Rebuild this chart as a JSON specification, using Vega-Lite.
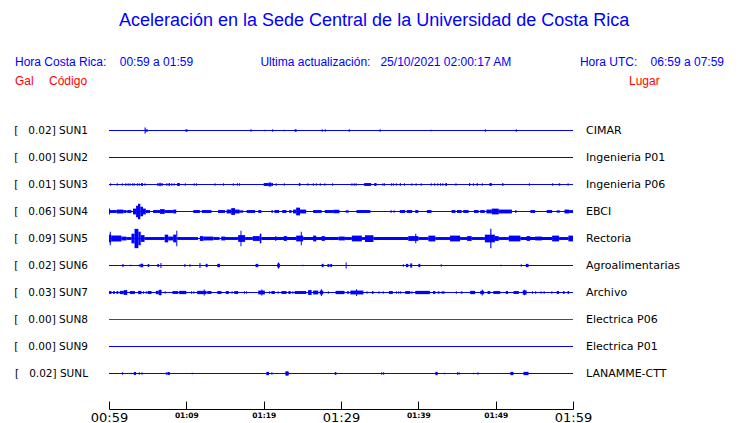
{
"$schema": "https://vega.github.io/schema/vega-lite/v6.json",
"background": "white",
"autosize": {"type": "pad"},
"padding": {"left": 14, "top": 12, "right": 5, "bottom": 5},
"title": {"text": "Aceleración en la Sede Central de la Universidad de Costa Rica", "font": "Liberation Sans", "fontSize": 18, "fontWeight": "normal", "color": "#0000ff", "anchor": "middle", "offset": 22, "dx": 5},
"config": {"view": {"stroke": null}},
"spacing": 27,
"vconcat": [
{
 "width": 464, "height": 38,
 "layer": [
  {"data": {"values": [{"t": "Hora Costa Rica:\u00a0\u00a0\u00a0\u00a000:59 a 01:59"}]},
   "mark": {"type": "text", "align": "left", "baseline": "middle", "font": "Liberation Sans", "fontSize": 12, "color": "#0000ff"},
   "encoding": {"text": {"field": "t"}, "x": {"datum": 0, "type": "quantitative", "scale": {"domain": [0, 1], "range": [-94, 615]}, "axis": null}, "y": {"datum": "l1", "type": "nominal", "scale": {"type": "point", "domain": ["l1", "l2"], "padding": 0.5}, "axis": null}}},
  {"data": {"values": [{"t": "Ultima actualización:\u00a0\u00a0\u00a025/10/2021 02:00:17 AM"}]},
   "mark": {"type": "text", "align": "center", "baseline": "middle", "font": "Liberation Sans", "fontSize": 12, "color": "#0000ff"},
   "encoding": {"text": {"field": "t"}, "x": {"datum": 0.523, "type": "quantitative"}, "y": {"datum": "l1", "type": "nominal"}}},
  {"data": {"values": [{"t": "Hora UTC:\u00a0\u00a0\u00a0\u00a006:59 a 07:59"}]},
   "mark": {"type": "text", "align": "right", "baseline": "middle", "font": "Liberation Sans", "fontSize": 12, "color": "#0000ff"},
   "encoding": {"text": {"field": "t"}, "x": {"datum": 1, "type": "quantitative"}, "y": {"datum": "l1", "type": "nominal"}}},
  {"data": {"values": [{"t": "Gal"}]},
   "mark": {"type": "text", "align": "left", "baseline": "middle", "font": "Liberation Sans", "fontSize": 12, "color": "#ff0000"},
   "encoding": {"text": {"field": "t"}, "x": {"datum": 0, "type": "quantitative"}, "y": {"datum": "l2", "type": "nominal"}}},
  {"data": {"values": [{"t": "Código"}]},
   "mark": {"type": "text", "align": "left", "baseline": "middle", "font": "Liberation Sans", "fontSize": 12, "color": "#ff0000"},
   "encoding": {"text": {"field": "t"}, "x": {"datum": 0.048, "type": "quantitative"}, "y": {"datum": "l2", "type": "nominal"}}},
  {"data": {"values": [{"t": "Lugar"}]},
   "mark": {"type": "text", "align": "left", "baseline": "middle", "font": "Liberation Sans", "fontSize": 12, "color": "#ff0000"},
   "encoding": {"text": {"field": "t"}, "x": {"datum": 0.866, "type": "quantitative"}, "y": {"datum": "l2", "type": "nominal"}}}
 ]
},
{
 "data": {"values": [
  {"c":"SUN1","k":"base","t0":0,"t1":60,"lo":-0.5,"hi":0.5},{"c":"SUN2","k":"base","t0":0,"t1":60,"lo":-0.5,"hi":0.5},{"c":"SUN3","k":"base","t0":0,"t1":60,"lo":-0.5,"hi":0.5},{"c":"SUN4","k":"base","t0":0,"t1":60,"lo":-0.5,"hi":0.5},{"c":"SUN5","k":"base","t0":0,"t1":60,"lo":-0.5,"hi":0.5},
  {"c":"SUN6","k":"base","t0":0,"t1":60,"lo":-0.5,"hi":0.5},{"c":"SUN7","k":"base","t0":0,"t1":60,"lo":-0.5,"hi":0.5},{"c":"SUN8","k":"base","t0":0,"t1":60,"lo":-0.5,"hi":0.5},{"c":"SUN9","k":"base","t0":0,"t1":60,"lo":-0.5,"hi":0.5},{"c":"SUNL","k":"base","t0":0,"t1":60,"lo":-0.5,"hi":0.5},

  {"c":"SUN1","t0":4.6,"t1":4.75,"lo":-3.2,"hi":3.2},{"c":"SUN1","t0":4.8,"t1":5.0,"lo":-1.3,"hi":1.3},{"c":"SUN1","t0":9.9,"t1":10.15,"lo":-1.3,"hi":1.3},{"c":"SUN1","t0":18.3,"t1":18.43,"lo":-1.3,"hi":1.3},{"c":"SUN1","t0":20.1,"t1":20.23,"lo":-0.8,"hi":0.8},{"c":"SUN1","t0":21.1,"t1":21.23,"lo":-1.3,"hi":1.3},{"c":"SUN1","t0":22.6,"t1":22.73,"lo":-0.8,"hi":0.8},{"c":"SUN1","t0":24.0,"t1":24.26,"lo":-1.3,"hi":1.3},{"c":"SUN1","t0":27.5,"t1":27.63,"lo":-1.3,"hi":1.3},{"c":"SUN1","t0":27.9,"t1":28.03,"lo":-1.3,"hi":1.3},{"c":"SUN1","t0":31.0,"t1":31.13,"lo":-1.3,"hi":1.3},{"c":"SUN1","t0":35.0,"t1":35.13,"lo":-1.3,"hi":1.3},{"c":"SUN1","t0":41.6,"t1":41.73,"lo":-0.8,"hi":0.8},{"c":"SUN1","t0":48.6,"t1":48.73,"lo":-1.3,"hi":1.3},{"c":"SUN1","t0":52.6,"t1":52.73,"lo":-1.3,"hi":1.3},

  {"c":"SUN3","t0":0.15,"t1":0.28,"lo":-1.2,"hi":1.2},{"c":"SUN3","t0":1.0,"t1":1.13,"lo":-1.2,"hi":1.2},{"c":"SUN3","t0":1.65,"t1":1.78,"lo":-1.2,"hi":1.2},{"c":"SUN3","t0":2.1,"t1":2.23,"lo":-1.2,"hi":1.2},{"c":"SUN3","t0":2.4,"t1":2.53,"lo":-1.2,"hi":1.2},{"c":"SUN3","t0":2.65,"t1":2.78,"lo":-1.2,"hi":1.2},{"c":"SUN3","t0":3.0,"t1":3.13,"lo":-1.2,"hi":1.2},{"c":"SUN3","t0":3.2,"t1":3.33,"lo":-1.2,"hi":1.2},{"c":"SUN3","t0":3.6,"t1":3.73,"lo":-1.2,"hi":1.2},{"c":"SUN3","t0":3.85,"t1":3.98,"lo":-1.2,"hi":1.2},{"c":"SUN3","t0":4.15,"t1":4.4,"lo":-1.5,"hi":1.5},{"c":"SUN3","t0":4.6,"t1":4.73,"lo":-1.2,"hi":1.2},{"c":"SUN3","t0":6.2,"t1":6.45,"lo":-1.2,"hi":1.2},{"c":"SUN3","t0":6.5,"t1":6.7,"lo":-1.7,"hi":1.7},{"c":"SUN3","t0":6.75,"t1":7.0,"lo":-1.2,"hi":1.2},{"c":"SUN3","t0":7.4,"t1":7.55,"lo":-1.2,"hi":1.2},{"c":"SUN3","t0":7.7,"t1":7.87,"lo":-1.5,"hi":1.5},{"c":"SUN3","t0":8.05,"t1":8.18,"lo":-1.2,"hi":1.2},{"c":"SUN3","t0":8.35,"t1":8.48,"lo":-1.2,"hi":1.2},{"c":"SUN3","t0":8.8,"t1":9.16,"lo":-1.5,"hi":1.5},{"c":"SUN3","t0":9.8,"t1":9.93,"lo":-1.2,"hi":1.2},{"c":"SUN3","t0":10.95,"t1":11.08,"lo":-1.2,"hi":1.2},{"c":"SUN3","t0":11.25,"t1":11.38,"lo":-1.2,"hi":1.2},{"c":"SUN3","t0":13.65,"t1":13.78,"lo":-1.2,"hi":1.2},{"c":"SUN3","t0":14.75,"t1":14.88,"lo":-1.2,"hi":1.2},{"c":"SUN3","t0":16.0,"t1":16.13,"lo":-1.2,"hi":1.2},{"c":"SUN3","t0":16.55,"t1":16.68,"lo":-1.2,"hi":1.2},{"c":"SUN3","t0":16.8,"t1":16.93,"lo":-1.2,"hi":1.2},{"c":"SUN3","t0":20.0,"t1":20.6,"lo":-1.5,"hi":1.5},{"c":"SUN3","t0":20.6,"t1":21.0,"lo":-2,"hi":2},{"c":"SUN3","t0":21.0,"t1":21.2,"lo":-1.5,"hi":1.5},{"c":"SUN3","t0":21.55,"t1":21.68,"lo":-1.2,"hi":1.2},{"c":"SUN3","t0":22.6,"t1":22.73,"lo":-1.2,"hi":1.2},{"c":"SUN3","t0":24.55,"t1":24.75,"lo":-1.5,"hi":1.5},{"c":"SUN3","t0":25.65,"t1":25.78,"lo":-1.2,"hi":1.2},{"c":"SUN3","t0":26.35,"t1":26.48,"lo":-1.2,"hi":1.2},{"c":"SUN3","t0":26.75,"t1":26.88,"lo":-1.2,"hi":1.2},{"c":"SUN3","t0":27.25,"t1":27.38,"lo":-1.2,"hi":1.2},{"c":"SUN3","t0":27.85,"t1":27.98,"lo":-1.2,"hi":1.2},{"c":"SUN3","t0":28.85,"t1":28.98,"lo":-1.2,"hi":1.2},
  {"c":"SUN3","t0":31.35,"t1":31.48,"lo":-1.2,"hi":1.2},{"c":"SUN3","t0":31.65,"t1":31.78,"lo":-1.2,"hi":1.2},{"c":"SUN3","t0":31.9,"t1":32.03,"lo":-1.2,"hi":1.2},{"c":"SUN3","t0":33.0,"t1":33.9,"lo":-1.5,"hi":1.5},{"c":"SUN3","t0":34.3,"t1":34.6,"lo":-1.5,"hi":1.5},{"c":"SUN3","t0":35.35,"t1":35.48,"lo":-1.2,"hi":1.2},{"c":"SUN3","t0":35.55,"t1":35.68,"lo":-1.2,"hi":1.2},{"c":"SUN3","t0":36.45,"t1":36.58,"lo":-1.2,"hi":1.2},{"c":"SUN3","t0":36.7,"t1":36.83,"lo":-1.2,"hi":1.2},{"c":"SUN3","t0":37.1,"t1":37.23,"lo":-1.2,"hi":1.2},{"c":"SUN3","t0":37.6,"t1":37.73,"lo":-1.5,"hi":1.5},{"c":"SUN3","t0":38.15,"t1":38.28,"lo":-1.2,"hi":1.2},{"c":"SUN3","t0":39.1,"t1":39.23,"lo":-1.2,"hi":1.2},{"c":"SUN3","t0":39.65,"t1":39.78,"lo":-1.2,"hi":1.2},{"c":"SUN3","t0":40.3,"t1":40.43,"lo":-1.2,"hi":1.2},{"c":"SUN3","t0":41.6,"t1":41.73,"lo":-1.2,"hi":1.2},{"c":"SUN3","t0":42.05,"t1":42.18,"lo":-1.2,"hi":1.2},{"c":"SUN3","t0":42.45,"t1":42.58,"lo":-1.2,"hi":1.2},{"c":"SUN3","t0":42.8,"t1":42.93,"lo":-1.2,"hi":1.2},{"c":"SUN3","t0":43.1,"t1":43.23,"lo":-1.2,"hi":1.2},{"c":"SUN3","t0":43.5,"t1":43.7,"lo":-1.5,"hi":1.5},{"c":"SUN3","t0":44.8,"t1":44.93,"lo":-1.2,"hi":1.2},{"c":"SUN3","t0":46.55,"t1":46.7,"lo":-1.5,"hi":1.5},{"c":"SUN3","t0":47.05,"t1":47.18,"lo":-1.2,"hi":1.2},{"c":"SUN3","t0":47.55,"t1":47.68,"lo":-1.5,"hi":1.5},{"c":"SUN3","t0":48.2,"t1":48.33,"lo":-1.2,"hi":1.2},{"c":"SUN3","t0":49.2,"t1":49.5,"lo":-1.5,"hi":1.5},{"c":"SUN3","t0":50.85,"t1":51.0,"lo":-1.5,"hi":1.5},{"c":"SUN3","t0":54.3,"t1":54.43,"lo":-1.2,"hi":1.2},{"c":"SUN3","t0":57.3,"t1":57.43,"lo":-1.2,"hi":1.2},{"c":"SUN3","t0":58.15,"t1":58.35,"lo":-1.2,"hi":1.2},{"c":"SUN3","t0":59.3,"t1":59.43,"lo":-1.2,"hi":1.2},

  {"c":"SUN4","t0":0,"t1":0.13,"lo":-3,"hi":3},{"c":"SUN4","t0":0.13,"t1":1.0,"lo":-1.5,"hi":1.5},{"c":"SUN4","t0":1.0,"t1":1.85,"lo":-2,"hi":2},{"c":"SUN4","t0":1.85,"t1":2.26,"lo":-1.5,"hi":1.5},{"c":"SUN4","t0":2.35,"t1":2.9,"lo":-1.5,"hi":1.5},{"c":"SUN4","t0":3.1,"t1":3.5,"lo":-3,"hi":3},{"c":"SUN4","t0":3.5,"t1":3.75,"lo":-6,"hi":6},{"c":"SUN4","t0":3.75,"t1":4.05,"lo":-8,"hi":8},{"c":"SUN4","t0":4.05,"t1":4.4,"lo":-5,"hi":5},{"c":"SUN4","t0":4.4,"t1":4.76,"lo":-3,"hi":3},{"c":"SUN4","t0":4.76,"t1":5.3,"lo":-1.5,"hi":1.5},{"c":"SUN4","t0":5.7,"t1":6.6,"lo":-1.5,"hi":1.5},{"c":"SUN4","t0":6.6,"t1":7.2,"lo":-2.5,"hi":2.5},{"c":"SUN4","t0":7.2,"t1":8.3,"lo":-1.5,"hi":1.5},{"c":"SUN4","t0":8.3,"t1":8.7,"lo":-2,"hi":2},{"c":"SUN4","t0":10.9,"t1":11.75,"lo":-1.5,"hi":1.5},{"c":"SUN4","t0":12.0,"t1":13.25,"lo":-1.5,"hi":1.5},{"c":"SUN4","t0":14.1,"t1":15.0,"lo":-1.5,"hi":1.5},{"c":"SUN4","t0":15.2,"t1":15.8,"lo":-2,"hi":2},{"c":"SUN4","t0":15.8,"t1":16.3,"lo":-3.5,"hi":3.5},{"c":"SUN4","t0":16.3,"t1":16.9,"lo":-2,"hi":2},{"c":"SUN4","t0":16.9,"t1":17.35,"lo":-1.2,"hi":1.2},{"c":"SUN4","t0":17.8,"t1":18.9,"lo":-1.5,"hi":1.5},{"c":"SUN4","t0":19.3,"t1":19.7,"lo":-1.5,"hi":1.5},{"c":"SUN4","t0":21.0,"t1":21.2,"lo":-1.2,"hi":1.2},{"c":"SUN4","t0":21.4,"t1":22.0,"lo":-1.5,"hi":1.5},{"c":"SUN4","t0":22.4,"t1":22.95,"lo":-1.5,"hi":1.5},{"c":"SUN4","t0":23.3,"t1":23.6,"lo":-1.5,"hi":1.5},{"c":"SUN4","t0":23.8,"t1":24.2,"lo":-2,"hi":2},{"c":"SUN4","t0":24.2,"t1":24.7,"lo":-4,"hi":4},{"c":"SUN4","t0":24.7,"t1":25.5,"lo":-2,"hi":2},{"c":"SUN4","t0":26.4,"t1":27.5,"lo":-1.5,"hi":1.5},{"c":"SUN4","t0":27.9,"t1":29.0,"lo":-1.5,"hi":1.5},{"c":"SUN4","t0":29.0,"t1":29.8,"lo":-1.8,"hi":1.8},
  {"c":"SUN4","t0":30.6,"t1":31.0,"lo":-1.2,"hi":1.2},{"c":"SUN4","t0":32.0,"t1":33.8,"lo":-1.5,"hi":1.5},{"c":"SUN4","t0":36.4,"t1":36.55,"lo":-1.2,"hi":1.2},{"c":"SUN4","t0":36.8,"t1":36.93,"lo":-1.2,"hi":1.2},{"c":"SUN4","t0":37.6,"t1":38.3,"lo":-1.5,"hi":1.5},{"c":"SUN4","t0":38.5,"t1":39.2,"lo":-1.5,"hi":1.5},{"c":"SUN4","t0":39.6,"t1":40.0,"lo":-1.5,"hi":1.5},{"c":"SUN4","t0":41.1,"t1":41.7,"lo":-1.5,"hi":1.5},{"c":"SUN4","t0":44.3,"t1":44.8,"lo":-1.5,"hi":1.5},{"c":"SUN4","t0":45.0,"t1":45.6,"lo":-1.5,"hi":1.5},{"c":"SUN4","t0":45.8,"t1":46.5,"lo":-1.5,"hi":1.5},{"c":"SUN4","t0":47.2,"t1":47.8,"lo":-1.5,"hi":1.5},{"c":"SUN4","t0":48.0,"t1":48.6,"lo":-1.5,"hi":1.5},{"c":"SUN4","t0":48.8,"t1":49.5,"lo":-2,"hi":2},{"c":"SUN4","t0":49.5,"t1":50.4,"lo":-3,"hi":3},{"c":"SUN4","t0":50.4,"t1":52.1,"lo":-2,"hi":2},{"c":"SUN4","t0":52.5,"t1":52.7,"lo":-1.2,"hi":1.2},{"c":"SUN4","t0":54.5,"t1":55.1,"lo":-1.5,"hi":1.5},{"c":"SUN4","t0":56.6,"t1":57.3,"lo":-1.5,"hi":1.5},{"c":"SUN4","t0":57.9,"t1":58.3,"lo":-1.2,"hi":1.2},{"c":"SUN4","t0":58.9,"t1":59.5,"lo":-2,"hi":2},{"c":"SUN4","t0":59.5,"t1":60,"lo":-1.5,"hi":1.5},

  {"c":"SUN5","t0":0,"t1":0.28,"lo":-4,"hi":4},{"c":"SUN5","t0":0.1,"t1":0.23,"lo":-7,"hi":7},{"c":"SUN5","t0":0.28,"t1":1.6,"lo":-3,"hi":3},{"c":"SUN5","t0":1.6,"t1":2.26,"lo":-2,"hi":2},{"c":"SUN5","t0":2.26,"t1":2.9,"lo":-1.5,"hi":1.5},{"c":"SUN5","t0":2.9,"t1":3.3,"lo":-5,"hi":5},{"c":"SUN5","t0":3.3,"t1":3.8,"lo":-10,"hi":10},{"c":"SUN5","t0":3.8,"t1":4.1,"lo":-7,"hi":7},{"c":"SUN5","t0":4.1,"t1":4.6,"lo":-3.5,"hi":3.5},{"c":"SUN5","t0":4.6,"t1":7.2,"lo":-1.5,"hi":1.5},{"c":"SUN5","t0":7.2,"t1":7.65,"lo":-4,"hi":4},{"c":"SUN5","t0":7.65,"t1":8.3,"lo":-2,"hi":2},{"c":"SUN5","t0":8.3,"t1":8.7,"lo":-4,"hi":4},{"c":"SUN5","t0":8.7,"t1":8.83,"lo":-8,"hi":8},{"c":"SUN5","t0":8.83,"t1":11.5,"lo":-1.5,"hi":1.5},{"c":"SUN5","t0":11.75,"t1":12.2,"lo":-2.5,"hi":2.5},{"c":"SUN5","t0":12.2,"t1":13.5,"lo":-2,"hi":2},{"c":"SUN5","t0":13.5,"t1":14.3,"lo":-1.5,"hi":1.5},{"c":"SUN5","t0":14.5,"t1":15.0,"lo":-2,"hi":2},{"c":"SUN5","t0":15.0,"t1":16.7,"lo":-1.5,"hi":1.5},{"c":"SUN5","t0":16.7,"t1":17.6,"lo":-3.5,"hi":3.5},{"c":"SUN5","t0":17.0,"t1":17.13,"lo":-8,"hi":8},{"c":"SUN5","t0":17.6,"t1":18.6,"lo":-1.5,"hi":1.5},{"c":"SUN5","t0":18.6,"t1":19.5,"lo":-2.5,"hi":2.5},{"c":"SUN5","t0":19.5,"t1":19.7,"lo":-5,"hi":5},{"c":"SUN5","t0":19.7,"t1":24.2,"lo":-1.5,"hi":1.5},{"c":"SUN5","t0":21.5,"t1":21.63,"lo":-2.5,"hi":2.5},{"c":"SUN5","t0":22.6,"t1":23.0,"lo":-2.5,"hi":2.5},{"c":"SUN5","t0":24.2,"t1":25.1,"lo":-3,"hi":3},{"c":"SUN5","t0":24.8,"t1":24.93,"lo":-7,"hi":7},{"c":"SUN5","t0":25.1,"t1":29.7,"lo":-1.5,"hi":1.5},{"c":"SUN5","t0":26.4,"t1":26.8,"lo":-3,"hi":3},{"c":"SUN5","t0":27.5,"t1":27.9,"lo":-2.5,"hi":2.5},
  {"c":"SUN5","t0":29.7,"t1":30.5,"lo":-2,"hi":2},{"c":"SUN5","t0":30.5,"t1":31.4,"lo":-1.5,"hi":1.5},{"c":"SUN5","t0":31.4,"t1":32.7,"lo":-3,"hi":3},{"c":"SUN5","t0":32.7,"t1":33.1,"lo":-1.5,"hi":1.5},{"c":"SUN5","t0":33.1,"t1":34.2,"lo":-3.5,"hi":3.5},{"c":"SUN5","t0":34.2,"t1":38.7,"lo":-1.5,"hi":1.5},{"c":"SUN5","t0":38.7,"t1":40.0,"lo":-2.5,"hi":2.5},{"c":"SUN5","t0":39.6,"t1":39.73,"lo":-5,"hi":5},{"c":"SUN5","t0":40.0,"t1":41.3,"lo":-1.5,"hi":1.5},{"c":"SUN5","t0":41.3,"t1":42.2,"lo":-3,"hi":3},{"c":"SUN5","t0":42.2,"t1":44.1,"lo":-1.5,"hi":1.5},{"c":"SUN5","t0":44.1,"t1":45.4,"lo":-3,"hi":3},{"c":"SUN5","t0":45.4,"t1":46.3,"lo":-1.5,"hi":1.5},{"c":"SUN5","t0":46.3,"t1":46.9,"lo":-2.5,"hi":2.5},{"c":"SUN5","t0":46.9,"t1":48.6,"lo":-1.5,"hi":1.5},{"c":"SUN5","t0":48.6,"t1":49.9,"lo":-4,"hi":4},{"c":"SUN5","t0":49.3,"t1":49.45,"lo":-10,"hi":10},{"c":"SUN5","t0":49.9,"t1":50.4,"lo":-2.5,"hi":2.5},{"c":"SUN5","t0":50.4,"t1":51.7,"lo":-1.5,"hi":1.5},{"c":"SUN5","t0":51.7,"t1":53.2,"lo":-3,"hi":3},{"c":"SUN5","t0":53.2,"t1":57.3,"lo":-1.5,"hi":1.5},{"c":"SUN5","t0":54.0,"t1":54.45,"lo":-2.5,"hi":2.5},{"c":"SUN5","t0":55.1,"t1":56.0,"lo":-2,"hi":2},{"c":"SUN5","t0":57.3,"t1":58.2,"lo":-3,"hi":3},{"c":"SUN5","t0":58.2,"t1":59.4,"lo":-1.5,"hi":1.5},{"c":"SUN5","t0":59.4,"t1":60,"lo":-3,"hi":3},

  {"c":"SUN6","t0":1.7,"t1":1.9,"lo":-1.2,"hi":1.2},{"c":"SUN6","t0":2.75,"t1":2.88,"lo":-0.8,"hi":0.8},{"c":"SUN6","t0":3.85,"t1":4.0,"lo":-1,"hi":1},{"c":"SUN6","t0":4.05,"t1":4.42,"lo":-1.7,"hi":1.7},{"c":"SUN6","t0":5.0,"t1":5.2,"lo":-1.5,"hi":1.5},{"c":"SUN6","t0":6.25,"t1":6.45,"lo":-1.5,"hi":1.5},{"c":"SUN6","t0":6.65,"t1":6.78,"lo":-2.5,"hi":2.5},{"c":"SUN6","t0":9.75,"t1":9.88,"lo":-1.5,"hi":1.5},{"c":"SUN6","t0":10.4,"t1":10.53,"lo":-1.2,"hi":1.2},{"c":"SUN6","t0":11.7,"t1":11.83,"lo":-2.5,"hi":2.5},{"c":"SUN6","t0":12.5,"t1":12.75,"lo":-1.7,"hi":1.7},{"c":"SUN6","t0":14.0,"t1":14.35,"lo":-1.7,"hi":1.7},{"c":"SUN6","t0":18.95,"t1":19.3,"lo":-1.7,"hi":1.7},{"c":"SUN6","t0":21.75,"t1":22.1,"lo":-2,"hi":2},{"c":"SUN6","t0":21.85,"t1":21.98,"lo":-3,"hi":3},{"c":"SUN6","t0":25.0,"t1":25.13,"lo":-0.8,"hi":0.8},{"c":"SUN6","t0":27.5,"t1":27.75,"lo":-1.7,"hi":1.7},{"c":"SUN6","t0":28.25,"t1":28.5,"lo":-1.5,"hi":1.5},{"c":"SUN6","t0":28.6,"t1":28.85,"lo":-1.5,"hi":1.5},{"c":"SUN6","t0":30.6,"t1":30.73,"lo":-3,"hi":3},{"c":"SUN6","t0":38.0,"t1":38.13,"lo":-1.2,"hi":1.2},{"c":"SUN6","t0":38.4,"t1":38.7,"lo":-1.7,"hi":1.7},{"c":"SUN6","t0":38.95,"t1":39.2,"lo":-2.2,"hi":2.2},{"c":"SUN6","t0":40.0,"t1":40.25,"lo":-1.7,"hi":1.7},{"c":"SUN6","t0":42.9,"t1":43.03,"lo":-1.2,"hi":1.2},{"c":"SUN6","t0":50.6,"t1":50.73,"lo":-0.8,"hi":0.8},{"c":"SUN6","t0":53.25,"t1":53.38,"lo":-1.2,"hi":1.2},{"c":"SUN6","t0":53.9,"t1":54.25,"lo":-1.7,"hi":1.7},

  {"c":"SUN7","t0":0,"t1":0.32,"lo":-1.5,"hi":1.5},{"c":"SUN7","t0":0.54,"t1":0.75,"lo":-1.5,"hi":1.5},{"c":"SUN7","t0":0.97,"t1":1.2,"lo":-1.5,"hi":1.5},{"c":"SUN7","t0":1.4,"t1":1.9,"lo":-1.7,"hi":1.7},{"c":"SUN7","t0":1.9,"t1":2.36,"lo":-2.5,"hi":2.5},{"c":"SUN7","t0":2.7,"t1":3.35,"lo":-1.5,"hi":1.5},{"c":"SUN7","t0":3.77,"t1":4.2,"lo":-1.7,"hi":1.7},{"c":"SUN7","t0":4.4,"t1":4.53,"lo":-1.2,"hi":1.2},{"c":"SUN7","t0":4.75,"t1":4.88,"lo":-1.2,"hi":1.2},{"c":"SUN7","t0":5.0,"t1":5.5,"lo":-1.5,"hi":1.5},{"c":"SUN7","t0":6.06,"t1":6.4,"lo":-1.7,"hi":1.7},{"c":"SUN7","t0":6.4,"t1":6.8,"lo":-2.5,"hi":2.5},{"c":"SUN7","t0":6.55,"t1":6.68,"lo":-3,"hi":3},{"c":"SUN7","t0":7.2,"t1":7.33,"lo":-1.2,"hi":1.2},{"c":"SUN7","t0":8.2,"t1":8.95,"lo":-1.5,"hi":1.5},{"c":"SUN7","t0":9.07,"t1":10.0,"lo":-1.7,"hi":1.7},{"c":"SUN7","t0":10.6,"t1":10.73,"lo":-1.2,"hi":1.2},{"c":"SUN7","t0":10.9,"t1":11.03,"lo":-1.2,"hi":1.2},{"c":"SUN7","t0":11.4,"t1":12.6,"lo":-1.7,"hi":1.7},{"c":"SUN7","t0":12.25,"t1":12.38,"lo":-3,"hi":3},{"c":"SUN7","t0":12.7,"t1":13.25,"lo":-1.5,"hi":1.5},{"c":"SUN7","t0":14.0,"t1":14.55,"lo":-1.5,"hi":1.5},{"c":"SUN7","t0":15.1,"t1":15.5,"lo":-1.5,"hi":1.5},{"c":"SUN7","t0":15.85,"t1":15.98,"lo":-1.2,"hi":1.2},{"c":"SUN7","t0":16.2,"t1":16.7,"lo":-1.5,"hi":1.5},{"c":"SUN7","t0":17.45,"t1":17.58,"lo":-1.2,"hi":1.2},{"c":"SUN7","t0":17.7,"t1":17.83,"lo":-1.2,"hi":1.2},{"c":"SUN7","t0":19.3,"t1":20.15,"lo":-2,"hi":2},{"c":"SUN7","t0":19.7,"t1":19.83,"lo":-3,"hi":3},{"c":"SUN7","t0":20.7,"t1":20.83,"lo":-1.2,"hi":1.2},{"c":"SUN7","t0":21.0,"t1":21.45,"lo":-1.5,"hi":1.5},{"c":"SUN7","t0":21.8,"t1":21.93,"lo":-1.2,"hi":1.2},{"c":"SUN7","t0":22.3,"t1":22.95,"lo":-1.5,"hi":1.5},{"c":"SUN7","t0":23.2,"t1":23.5,"lo":-1.5,"hi":1.5},{"c":"SUN7","t0":23.7,"t1":23.83,"lo":-1.2,"hi":1.2},{"c":"SUN7","t0":24.0,"t1":25.5,"lo":-1.5,"hi":1.5},{"c":"SUN7","t0":25.75,"t1":26.2,"lo":-2.5,"hi":2.5},{"c":"SUN7","t0":26.4,"t1":27.05,"lo":-2,"hi":2},{"c":"SUN7","t0":27.25,"t1":27.7,"lo":-2,"hi":2},{"c":"SUN7","t0":27.4,"t1":27.53,"lo":-3.5,"hi":3.5},{"c":"SUN7","t0":28.3,"t1":28.43,"lo":-1.2,"hi":1.2},{"c":"SUN7","t0":29.3,"t1":30.45,"lo":-1.7,"hi":1.7},
  {"c":"SUN7","t0":30.8,"t1":31.0,"lo":-1.5,"hi":1.5},{"c":"SUN7","t0":31.2,"t1":32.9,"lo":-2,"hi":2},{"c":"SUN7","t0":31.95,"t1":32.08,"lo":-3.5,"hi":3.5},{"c":"SUN7","t0":33.3,"t1":33.43,"lo":-1.2,"hi":1.2},{"c":"SUN7","t0":34.0,"t1":34.2,"lo":-1.5,"hi":1.5},{"c":"SUN7","t0":34.85,"t1":34.98,"lo":-1.2,"hi":1.2},{"c":"SUN7","t0":35.4,"t1":35.53,"lo":-1.2,"hi":1.2},{"c":"SUN7","t0":36.2,"t1":36.7,"lo":-1.5,"hi":1.5},{"c":"SUN7","t0":37.1,"t1":37.23,"lo":-1.2,"hi":1.2},{"c":"SUN7","t0":37.4,"t1":37.53,"lo":-1.2,"hi":1.2},{"c":"SUN7","t0":37.65,"t1":37.78,"lo":-1.2,"hi":1.2},{"c":"SUN7","t0":38.3,"t1":38.95,"lo":-1.5,"hi":1.5},{"c":"SUN7","t0":39.1,"t1":39.23,"lo":-1.2,"hi":1.2},{"c":"SUN7","t0":39.6,"t1":41.5,"lo":-1.7,"hi":1.7},{"c":"SUN7","t0":41.9,"t1":42.2,"lo":-1.5,"hi":1.5},{"c":"SUN7","t0":42.5,"t1":42.75,"lo":-1.2,"hi":1.2},{"c":"SUN7","t0":43.0,"t1":43.4,"lo":-1.2,"hi":1.2},{"c":"SUN7","t0":44.85,"t1":44.98,"lo":-1.2,"hi":1.2},{"c":"SUN7","t0":45.5,"t1":45.7,"lo":-1.2,"hi":1.2},{"c":"SUN7","t0":46.7,"t1":47.35,"lo":-1.7,"hi":1.7},{"c":"SUN7","t0":48.0,"t1":48.5,"lo":-1.7,"hi":1.7},{"c":"SUN7","t0":48.2,"t1":48.33,"lo":-3,"hi":3},{"c":"SUN7","t0":48.95,"t1":49.3,"lo":-1.5,"hi":1.5},{"c":"SUN7","t0":49.7,"t1":50.6,"lo":-1.5,"hi":1.5},{"c":"SUN7","t0":51.3,"t1":51.6,"lo":-1.5,"hi":1.5},{"c":"SUN7","t0":52.3,"t1":53.0,"lo":-1.5,"hi":1.5},{"c":"SUN7","t0":53.5,"t1":54.0,"lo":-2.2,"hi":2.2},{"c":"SUN7","t0":53.65,"t1":53.78,"lo":-2.8,"hi":2.8},{"c":"SUN7","t0":54.7,"t1":54.83,"lo":-1.2,"hi":1.2},{"c":"SUN7","t0":55.1,"t1":55.23,"lo":-1.2,"hi":1.2},{"c":"SUN7","t0":55.8,"t1":55.93,"lo":-1.2,"hi":1.2},{"c":"SUN7","t0":56.2,"t1":56.33,"lo":-1.2,"hi":1.2},{"c":"SUN7","t0":57.2,"t1":57.33,"lo":-1.2,"hi":1.2},{"c":"SUN7","t0":57.9,"t1":58.2,"lo":-1.5,"hi":1.5},{"c":"SUN7","t0":58.7,"t1":58.9,"lo":-1.5,"hi":1.5},{"c":"SUN7","t0":59.3,"t1":59.5,"lo":-1.5,"hi":1.5},

  {"c":"SUNL","t0":1.7,"t1":1.83,"lo":-1.2,"hi":1.2},{"c":"SUNL","t0":2.8,"t1":2.93,"lo":-0.8,"hi":0.8},{"c":"SUNL","t0":3.2,"t1":3.5,"lo":-1.5,"hi":1.5},{"c":"SUNL","t0":3.85,"t1":3.98,"lo":-1.2,"hi":1.2},{"c":"SUNL","t0":4.2,"t1":4.33,"lo":-1.2,"hi":1.2},{"c":"SUNL","t0":7.35,"t1":7.48,"lo":-1.2,"hi":1.2},{"c":"SUNL","t0":7.56,"t1":7.87,"lo":-1.5,"hi":1.5},{"c":"SUNL","t0":10.7,"t1":10.83,"lo":-0.8,"hi":0.8},{"c":"SUNL","t0":20.35,"t1":20.7,"lo":-1.7,"hi":1.7},{"c":"SUNL","t0":21.0,"t1":21.13,"lo":-1.2,"hi":1.2},{"c":"SUNL","t0":22.8,"t1":23.25,"lo":-2,"hi":2},{"c":"SUNL","t0":22.95,"t1":23.08,"lo":-2.5,"hi":2.5},{"c":"SUNL","t0":29.2,"t1":29.4,"lo":-1.5,"hi":1.5},{"c":"SUNL","t0":35.2,"t1":35.33,"lo":-1.2,"hi":1.2},{"c":"SUNL","t0":35.45,"t1":35.58,"lo":-1.2,"hi":1.2},{"c":"SUNL","t0":42.2,"t1":42.5,"lo":-1.7,"hi":1.7},{"c":"SUNL","t0":43.3,"t1":43.43,"lo":-0.8,"hi":0.8},{"c":"SUNL","t0":45.0,"t1":45.13,"lo":-1.2,"hi":1.2},{"c":"SUNL","t0":45.2,"t1":45.33,"lo":-1.2,"hi":1.2},{"c":"SUNL","t0":47.05,"t1":47.18,"lo":-0.8,"hi":0.8},{"c":"SUNL","t0":47.65,"t1":47.78,"lo":-1.2,"hi":1.2},{"c":"SUNL","t0":51.9,"t1":52.3,"lo":-1.7,"hi":1.7},{"c":"SUNL","t0":53.6,"t1":54.25,"lo":-1.7,"hi":1.7}
 ]},
 "transform": [{"lookup": "c", "from": {"data": {"values": [
   {"c":"SUN1","ord":1,"label":"[\u00a0\u00a0\u00a00.02]\u00a0SUN1","place":"CIMAR"},
   {"c":"SUN2","ord":2,"label":"[\u00a0\u00a0\u00a00.00]\u00a0SUN2","place":"Ingenieria P01"},
   {"c":"SUN3","ord":3,"label":"[\u00a0\u00a0\u00a00.01]\u00a0SUN3","place":"Ingenieria P06"},
   {"c":"SUN4","ord":4,"label":"[\u00a0\u00a0\u00a00.06]\u00a0SUN4","place":"EBCI"},
   {"c":"SUN5","ord":5,"label":"[\u00a0\u00a0\u00a00.09]\u00a0SUN5","place":"Rectoria"},
   {"c":"SUN6","ord":6,"label":"[\u00a0\u00a0\u00a00.02]\u00a0SUN6","place":"Agroalimentarias"},
   {"c":"SUN7","ord":7,"label":"[\u00a0\u00a0\u00a00.03]\u00a0SUN7","place":"Archivo"},
   {"c":"SUN8","ord":8,"label":"[\u00a0\u00a0\u00a00.00]\u00a0SUN8","place":"Electrica P06"},
   {"c":"SUN9","ord":9,"label":"[\u00a0\u00a0\u00a00.00]\u00a0SUN9","place":"Electrica P01"},
   {"c":"SUNL","ord":10,"label":"[\u00a0\u00a0\u00a00.02]\u00a0SUNL","place":"LANAMME-CTT"}
  ]}, "key": "c", "fields": ["ord", "label", "place"]}}],
 "facet": {"row": {"field": "label", "type": "nominal", "sort": {"field": "ord", "op": "min"}, "title": null,
   "header": {"labelAngle": 0, "labelAlign": "left", "labelPadding": 21, "labelFont": "DejaVu Sans", "labelFontSize": 10.5, "labelColor": "black"}}},
 "spacing": 0,
 "spec": {
  "width": 464, "height": 27,
  "layer": [
   {"mark": {"type": "rect"},
    "encoding": {
     "x": {"field": "t0", "type": "quantitative", "scale": {"domain": [0, 60], "nice": false, "zero": false},
       "axis": {"title": null, "values": [0,5,10,15,20,25,30,35,40,45,50,55,60], "grid": false, "offset": 22,
         "domainColor": "black", "tickColor": "black", "tickSize": -8, "labelPadding": 10.5, "labelColor": "black",
         "labelFont": "DejaVu Sans", "labelFlush": false, "labelOverlap": false,
         "labelExpr": "datum.value % 10 == 0 ? timeFormat(datetime(2021, 9, 25, 0, 59 + datum.value), '%H:%M') : ''",
         "labelFontSize": {"condition": {"test": "datum.value % 30 == 0", "value": 13}, "value": 7.5},
         "labelFontWeight": {"condition": {"test": "datum.value % 30 == 0", "value": "normal"}, "value": "bold"}}},
     "x2": {"field": "t1"},
     "y": {"field": "lo", "type": "quantitative", "scale": {"domain": [-13.5, 13.5]}, "axis": null},
     "y2": {"field": "hi"},
     "color": {"field": "c", "type": "nominal", "legend": null,
       "scale": {"domain": ["SUN1","SUN2","SUN3","SUN4","SUN5","SUN6","SUN7","SUN8","SUN9","SUNL"],
                 "range": ["#0000ff","#0000ff","#0000ff","#0000ff","#0000ff","#0000ff","#0000ff","#ff0000","#0000ff","#0000ff"]}}}},
   {"transform": [{"filter": "datum.k == 'base'"}],
    "mark": {"type": "text", "align": "left", "baseline": "middle", "dx": 13, "font": "DejaVu Sans", "fontSize": 11, "color": "black"},
    "encoding": {
     "x": {"field": "t1", "type": "quantitative"},
     "y": {"datum": 0, "type": "quantitative"},
     "text": {"field": "place"}}}
  ]
 }
}
]
}
